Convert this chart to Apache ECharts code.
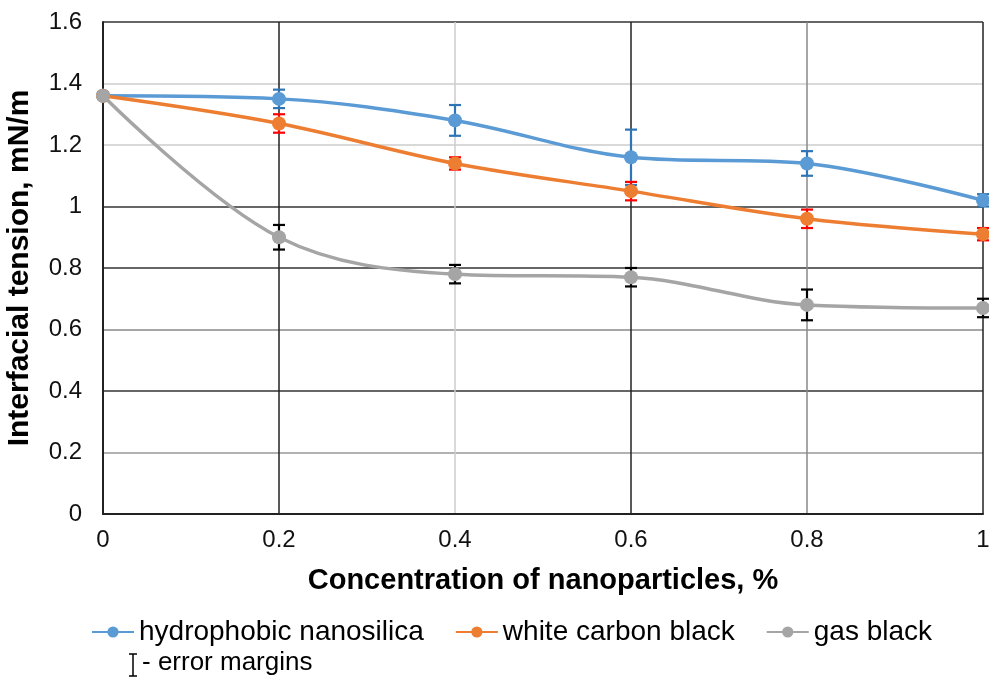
<!DOCTYPE html>
<html>
<head>
<meta charset="utf-8">
<script src="https://cdn.jsdelivr.net/npm/echarts@6/dist/echarts.min.js"></script>
<style>html,body{margin:0;padding:0;background:#fff}#c{width:989px;height:679px}</style>
</head>
<body>
<div id="c"></div>
<script>
const concentrations = [0, 0.2, 0.4, 0.6, 0.8, 1.0];
const seriesNames = ['hydrophobic nanosilica', 'white carbon black', 'gas black'];
const nanosilica = [1.36, 1.35, 1.28, 1.16, 1.14, 1.02];
const nanosilicaErr = [0.01, 0.03, 0.05, 0.09, 0.04, 0.02];
const whiteCarbon = [1.36, 1.27, 1.14, 1.05, 0.96, 0.91];
const whiteCarbonErr = [0.01, 0.03, 0.02, 0.03, 0.03, 0.02];
const gasBlack = [1.36, 0.90, 0.78, 0.77, 0.68, 0.67];
const gasBlackErr = [0.01, 0.04, 0.03, 0.03, 0.05, 0.03];

const lineColors = ['#5b9bd5', '#ed7d31', '#a5a5a5'];
const errColors = ['#2e75b6', '#ff0000', '#000000'];
const FONT = 'Liberation Sans, Arial, sans-serif';

function pairs(vals) { return concentrations.map((x, i) => [x, vals[i]]); }
function errData(vals, errs) { return concentrations.map((x, i) => [x, vals[i] - errs[i], vals[i] + errs[i]]); }

function errSeries(vals, errs, color) {
  return {
    type: 'custom',
    data: errData(vals, errs),
    z: 3,
    silent: true,
    renderItem: function (params, api) {
      const x = api.value(0);
      const lo = api.coord([x, api.value(1)]);
      const hi = api.coord([x, api.value(2)]);
      const w = 6;
      const st = { stroke: color, lineWidth: 2.2 };
      return {
        type: 'group',
        children: [
          { type: 'line', shape: { x1: lo[0], y1: lo[1], x2: hi[0], y2: hi[1] }, style: st },
          { type: 'line', shape: { x1: lo[0] - w, y1: lo[1], x2: lo[0] + w, y2: lo[1] }, style: st },
          { type: 'line', shape: { x1: hi[0] - w, y1: hi[1], x2: hi[0] + w, y2: hi[1] }, style: st }
        ]
      };
    }
  };
}

function lineSeries(name, vals, color) {
  return {
    name: name, type: 'line', data: pairs(vals), smooth: 0.35,
    symbol: 'circle', symbolSize: 14, z: 4,
    lineStyle: { color: color, width: 3.5 },
    itemStyle: { color: color }
  };
}

const chart = echarts.init(document.getElementById('c'), null, { renderer: 'canvas' });
chart.setOption({
  animation: false,
  backgroundColor: '#fff',
  grid: { left: 103, right: 6, top: 22, bottom: 165, containLabel: false, outerBoundsMode: 'none' },
  xAxis: {
    type: 'value', min: 0, max: 1, interval: 0.2,
    name: 'Concentration of nanoparticles, %', nameLocation: 'middle', nameGap: 52,
    nameTextStyle: { fontFamily: FONT, fontSize: 29, fontWeight: 'bold', color: '#000' },
    axisLine: { show: true, lineStyle: { color: '#222', width: 2 } },
    axisTick: { show: false },
    axisLabel: { fontFamily: FONT, fontSize: 24, color: '#111', margin: 14 },
    splitLine: { show: true, lineStyle: { color: ['#222', '#222', '#cccccc', '#222', '#888', '#222'], width: 1.5 } }
  },
  yAxis: {
    type: 'value', min: 0, max: 1.6, interval: 0.2,
    name: 'Interfacial tension, mN/m', nameLocation: 'middle', nameGap: 68,
    nameTextStyle: { fontFamily: FONT, fontSize: 30, fontWeight: 'bold', color: '#000' },
    axisLine: { show: true, lineStyle: { color: '#222', width: 2 } },
    axisTick: { show: false },
    axisLabel: { fontFamily: FONT, fontSize: 24, color: '#111', margin: 21 },
    splitLine: { show: true, lineStyle: { color: ['#222', '#999', '#333', '#888', '#333', '#333', '#cccccc', '#cccccc', '#333'], width: 1.5 } }
  },
  legend: {
    data: seriesNames,
    left: 86, top: 613,
    itemWidth: 42, itemHeight: 14, itemGap: 31,
    textStyle: { fontFamily: FONT, fontSize: 28, color: '#000' }
  },
  graphic: [
    { type: 'line', shape: { x1: 133, y1: 654, x2: 133, y2: 676 }, style: { stroke: '#000', lineWidth: 1.5 } },
    { type: 'line', shape: { x1: 129, y1: 654, x2: 137, y2: 654 }, style: { stroke: '#000', lineWidth: 1.5 } },
    { type: 'line', shape: { x1: 129, y1: 676, x2: 137, y2: 676 }, style: { stroke: '#000', lineWidth: 1.5 } },
    { type: 'text', left: 142, top: 650, style: { text: '- error margins', font: '26px ' + FONT, fill: '#000' } }
  ],
  series: [
    lineSeries(seriesNames[0], nanosilica, lineColors[0]),
    lineSeries(seriesNames[1], whiteCarbon, lineColors[1]),
    lineSeries(seriesNames[2], gasBlack, lineColors[2]),
    errSeries(nanosilica, nanosilicaErr, errColors[0]),
    errSeries(whiteCarbon, whiteCarbonErr, errColors[1]),
    errSeries(gasBlack, gasBlackErr, errColors[2])
  ]
});
</script>
</body>
</html>
